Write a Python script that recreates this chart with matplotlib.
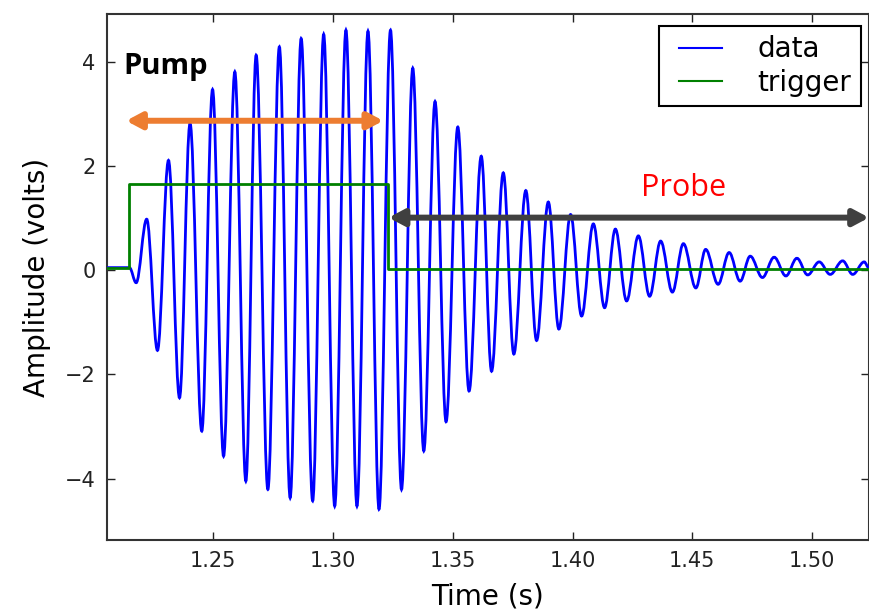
import numpy as np
import matplotlib
matplotlib.use("Agg")
import matplotlib.pyplot as plt
from matplotlib.path import Path
from matplotlib.patches import PathPatch
from matplotlib.lines import Line2D
from matplotlib.legend_handler import HandlerLine2D

# ---- data (seconds, volts) ----
peak_times = [1.2222, 1.2313, 1.2403, 1.2497, 1.2590, 1.2679, 1.2776, 1.2867,
              1.2961, 1.3054, 1.3146, 1.3240, 1.3333, 1.3426, 1.3521, 1.3619,
              1.3711, 1.3805, 1.3899, 1.3992, 1.4087, 1.4179, 1.4275, 1.4368,
              1.4463, 1.4556, 1.4654, 1.4742, 1.4842, 1.4937, 1.5030, 1.5128,
              1.5218]
peak_values = [0.98, 2.11, 2.82, 3.47, 3.81, 4.13, 4.29, 4.45,
               4.53, 4.61, 4.59, 4.61, 3.88, 3.24, 2.75, 2.19,
               1.87, 1.53, 1.31, 1.07, 0.89, 0.79, 0.66, 0.56,
               0.51, 0.40, 0.34, 0.27, 0.25, 0.23, 0.16, 0.18,
               0.16]
trough_times = [1.2178, 1.2267, 1.2359, 1.2452, 1.2543, 1.2636, 1.2728, 1.2821,
                1.2915, 1.3007, 1.3100, 1.3192, 1.3286, 1.3379, 1.3472, 1.3568,
                1.3662, 1.3755, 1.3850, 1.3943, 1.4038, 1.4134, 1.4226, 1.4322,
                1.4417, 1.4515, 1.4608, 1.4700, 1.4793, 1.4891, 1.4982, 1.5076,
                1.5170]
trough_values = [-0.24, -1.54, -2.45, -3.09, -3.57, -4.05, -4.21, -4.37,
                 -4.43, -4.53, -4.53, -4.59, -4.21, -3.47, -2.91, -2.32,
                 -1.94, -1.61, -1.35, -1.13, -0.88, -0.72, -0.59, -0.50,
                 -0.42, -0.34, -0.27, -0.21, -0.14, -0.11, -0.09, -0.08,
                 -0.08]
lead_times = [1.2055, 1.2150]
lead_values = [0.05, 0.05]
tail_times = [1.5238]
tail_values = [0.04]

trigger_times = [1.2055, 1.2150, 1.3228, 1.5238]
trigger_levels = [0.05, 1.66, 0.03, 0.03]

xticks = [1.25, 1.30, 1.35, 1.40, 1.45, 1.50]
yticks = [-4, -2, 0, 2, 4]
xlim = (1.2055, 1.5238)
ylim = (-5.18, 4.92)

pump_span = (1.2136, 1.3210, 2.87)
probe_span = (1.3232, 1.5238, 1.01)
series_labels = ["data", "trigger"]

# ---- figure ----
fig = plt.figure(figsize=(8.7, 6.16), dpi=100)
ax = fig.add_axes([106.7 / 870, 1 - 540 / 616, (869 - 106.7) / 870, (540 - 14) / 616])

# waveform drawn as a smooth Bezier path through the read extrema
t = np.array(lead_times + peak_times + trough_times + tail_times)
v = np.array(lead_values + peak_values + trough_values + tail_values)
order = np.argsort(t)
t, v = t[order], v[order]
k = 1 - 2 / np.pi
verts = [(t[0], v[0])]
codes = [Path.MOVETO]
for i in range(len(t) - 1):
    dt = t[i + 1] - t[i]
    verts += [(t[i] + k * dt, v[i]), (t[i + 1] - k * dt, v[i + 1]), (t[i + 1], v[i + 1])]
    codes += [Path.CURVE4] * 3
wave = PathPatch(Path(verts, codes), facecolor="none", edgecolor="#0000ff",
                 lw=2.0, zorder=3)
ax.add_patch(wave)

ax.step(trigger_times, trigger_levels, where="post", color="#008000", lw=2.0, zorder=4)

ax.set_xlim(*xlim)
ax.set_ylim(*ylim)
ax.set_xticks(xticks)
ax.set_xticklabels([f"{x:.2f}" for x in xticks])
ax.set_yticks(yticks)
ax.set_yticklabels([f"{y:d}".replace("-", "\u2212") for y in yticks])
ax.tick_params(direction="in", top=True, right=True, length=6, width=1,
               labelsize=15, pad=8, colors="#222222")
for s in ax.spines.values():
    s.set_linewidth(1.5)
    s.set_color("#333333")

ax.set_xlabel("Time (s)", fontsize=20, labelpad=8)
ax.set_ylabel("Amplitude (volts)", fontsize=20, labelpad=10)

# arrows and annotations
arrow_style = "<|-|>,head_length=0.6,head_width=0.32"
ax.annotate("", xy=(pump_span[0], pump_span[2]), xytext=(pump_span[1], pump_span[2]),
            arrowprops=dict(arrowstyle=arrow_style, color="#ED7D31", lw=4.3,
                            shrinkA=0, shrinkB=0, mutation_scale=15), zorder=5)
ax.annotate("", xy=(probe_span[0], probe_span[2]), xytext=(probe_span[1], probe_span[2]),
            arrowprops=dict(arrowstyle=arrow_style, color="#404040", lw=4.3,
                            shrinkA=0, shrinkB=0, mutation_scale=15), zorder=5)
ax.text(1.2123, 3.77, "Pump", fontsize=21, fontweight="bold", family="Open Sans",
        ha="left", va="baseline", color="black", zorder=6)
ax.text(1.4462, 1.43, "Probe", fontsize=22, family="Open Sans",
        ha="center", va="baseline", color="#FF0000", zorder=6)


class PadHandler(HandlerLine2D):
    def __init__(self, lead, **kw):
        super().__init__(**kw)
        self.lead = lead

    def get_xdata(self, legend, xdescent, ydescent, width, height, fontsize):
        xd = np.array([-xdescent + self.lead, -xdescent + width])
        return xd, xd


handles = [Line2D([], [], color="#0000ff", lw=1.5),
           Line2D([], [], color="#008000", lw=1.5)]
leg = ax.legend(handles, series_labels, loc="upper right",
                bbox_to_anchor=(1 - 8 / 762.3, 1 - 12 / 526), borderaxespad=0,
                fontsize=20, fancybox=False, framealpha=1, edgecolor="black",
                handlelength=1.93, handletextpad=1.3, labelspacing=0.2,
                borderpad=0.34,
                handler_map={h: PadHandler(7.6) for h in handles})
leg.get_frame().set_linewidth(1.5)
leg.set_zorder(10)

fig.savefig("out.png", dpi=100)
